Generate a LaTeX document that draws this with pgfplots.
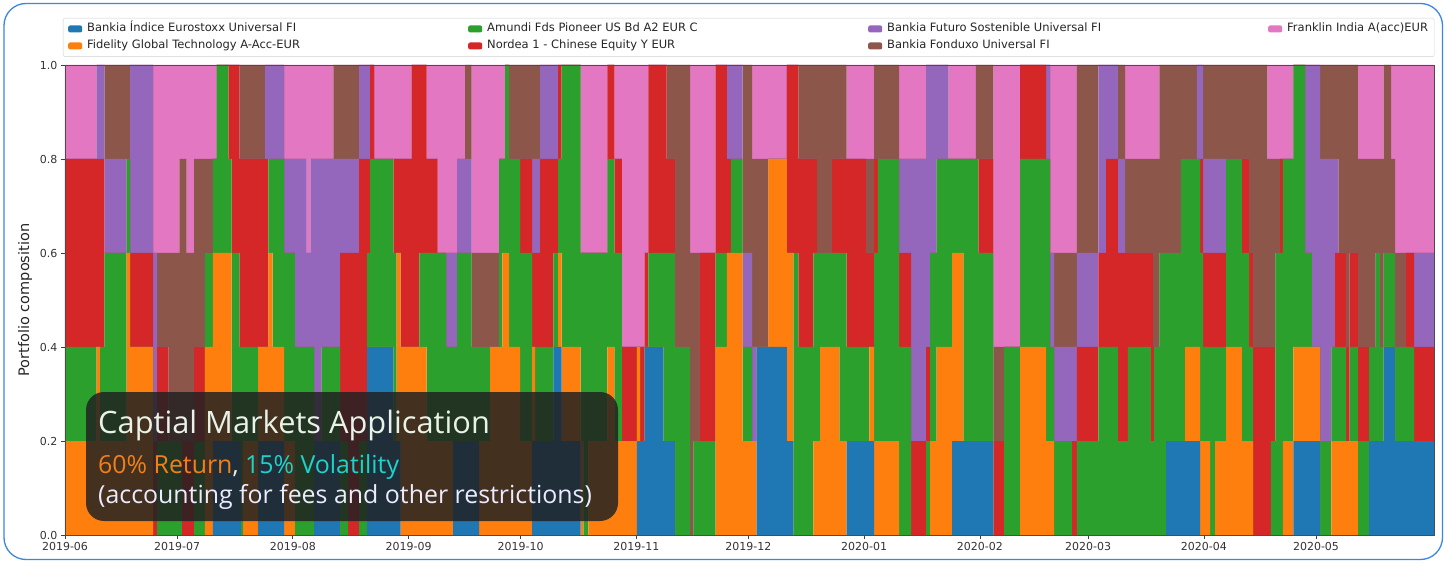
\documentclass[border=0pt]{standalone}
\usepackage{fontspec}
\setmainfont{DejaVu Sans}
\newfontfamily\osans{Open Sans}
\usepackage{pgfplots}
\usepackage{pgfplotstable}
\pgfplotsset{compat=1.18}

\definecolor{cB}{HTML}{1F77B4}
\definecolor{cO}{HTML}{FF7F0E}
\definecolor{cG}{HTML}{2CA02C}
\definecolor{cR}{HTML}{D62728}
\definecolor{cP}{HTML}{9467BD}
\definecolor{cN}{HTML}{8C564B}
\definecolor{cK}{HTML}{E377C2}
\definecolor{frameblue}{HTML}{3A86E0}
\definecolor{cardbg}{RGB}{33,33,34}
\definecolor{boxtxt}{HTML}{E9F2E6}
\definecolor{rettxt}{HTML}{F0801A}
\definecolor{voltxt}{HTML}{1ED2CC}

% day since 2019-06-01, number of 0.2 slices held by each fund
\pgfplotstableread{
t      b o g r p n k
0      0 1 1 2 0 0 1
8.44   0 2 0 2 1 0 0
9.37   0 1 1 2 1 0 0
10.52  0 1 2 0 1 1 0
16.52  0 3 1 0 0 1 0
17.41  0 2 0 1 2 0 0
23.57  0 0 0 1 2 0 2
24.64  0 0 1 1 0 1 2
27.66  0 0 1 0 0 2 2
30.61  0 0 1 0 0 3 1
31.33  0 0 0 1 0 3 1
32.59  0 0 0 1 0 2 2
34.55  0 0 1 1 0 2 1
37.49  0 2 1 0 0 1 1
39.63  1 2 1 0 0 0 1
40.63  1 2 2 0 0 0 0
43.73  1 2 1 1 0 0 0
44.64  1 0 2 2 0 0 0
46.68  1 0 1 2 0 1 0
47.13  0 0 2 2 0 1 0
47.67  0 1 1 2 0 1 0
51.69  1 1 0 2 0 1 0
53.56  1 1 0 2 1 0 0
54.45  1 2 1 0 1 0 0
55.62  1 1 2 0 1 0 0
58.65  0 1 2 0 1 0 1
61.58  0 0 2 0 2 0 1
64.73  0 0 2 0 1 0 2
65.80  0 0 2 0 2 0 1
66.68  1 0 0 0 3 0 1
68.75  1 0 1 0 2 0 1
71.85  1 0 1 0 2 1 0
73.65  0 0 1 2 1 1 0
75.79  0 0 0 3 1 1 0
78.74  0 0 1 3 1 0 0
80.88  2 0 1 1 1 0 0
81.68  2 0 2 1 0 0 0
82.75  2 0 2 0 0 0 1
87.92  1 0 2 1 0 0 1
88.83  1 2 0 1 0 0 1
89.85  0 2 0 2 0 0 1
92.85  0 2 0 3 0 0 0
94.89  0 2 1 2 0 0 0
96.87  0 1 2 1 0 0 1
99.81  0 1 2 0 0 0 2
102.04 0 1 1 0 1 0 2
103.91 1 0 1 0 1 0 2
104.98 1 0 2 0 1 0 1
107.12 1 0 2 0 1 1 0
108.92 1 0 1 0 0 1 2
110.87 0 1 1 0 0 1 2
113.82 0 2 0 0 0 1 2
116.23 0 2 2 0 0 0 1
117.11 0 3 1 0 0 0 1
117.84 0 3 2 0 0 0 0
118.91 0 2 2 0 0 1 0
121.85 0 1 2 1 0 1 0
125.07 1 1 0 1 1 1 0
125.87 1 0 1 1 1 1 0
127.21 1 0 1 2 1 0 0
130.77 2 0 1 1 1 0 0
132.03 2 1 1 1 0 0 0
133.02 1 1 3 0 0 0 0
138.06 0 1 2 0 0 0 2
138.81 0 0 3 0 0 0 2
140.15 0 1 2 0 0 0 2
145.23 0 2 2 1 0 0 0
147.11 0 1 2 1 0 0 1
149.09 0 1 0 1 0 0 3
153.11 1 1 0 0 0 0 3
153.99 1 0 0 1 0 0 3
155.20 2 0 0 1 0 0 2
156.21 2 0 1 2 0 0 0
160.23 1 0 2 2 0 0 0
161.14 1 0 2 1 0 1 0
163.36 0 0 2 0 0 3 0
167.38 0 0 0 0 0 3 2
168.26 0 0 1 0 0 2 2
170.06 0 0 1 2 0 0 2
174.21 0 2 1 2 0 0 0
177.21 0 3 0 1 1 0 0
178.28 0 3 1 0 1 0 0
181.49 0 1 1 0 1 2 0
183.98 0 1 0 0 1 2 1
185.24 2 0 0 0 0 2 1
188.35 2 2 0 0 0 0 1
193.28 1 2 0 2 0 0 0
195.04 0 0 3 2 0 0 0
196.38 0 0 2 2 0 1 0
200.40 0 1 2 1 0 1 0
201.31 0 1 2 0 0 2 0
202.19 0 2 1 0 0 2 0
205.33 0 2 1 1 0 1 0
207.36 0 1 2 1 0 1 0
209.34 1 0 1 2 0 0 1
214.52 1 0 1 1 0 1 1
215.40 1 1 0 1 0 1 1
216.66 0 1 2 1 0 1 0
217.65 0 1 3 0 0 1 0
223.35 0 0 2 1 1 0 1
226.57 0 0 0 1 3 0 1
230.58 0 0 1 1 3 0 0
231.66 0 1 2 0 2 0 0
233.40 0 2 2 0 1 0 0
236.56 0 2 2 0 0 0 1
237.55 1 2 1 0 0 0 1
240.58 1 0 3 0 0 0 1
243.90 1 0 3 0 0 1 0
244.60 1 0 2 1 0 1 0
248.61 0 0 0 1 0 1 3
251.48 0 0 2 0 0 0 3
255.76 0 2 2 1 0 0 0
262.72 0 1 3 0 1 0 0
263.79 0 1 1 0 1 0 2
264.86 0 0 1 0 1 1 2
269.60 0 0 0 1 1 1 2
270.94 0 0 1 1 1 2 0
276.73 0 0 2 1 2 0 0
278.79 0 0 2 2 1 0 0
281.92 0 0 1 2 1 1 0
283.88 0 0 1 2 0 1 1
284.60 0 0 2 1 0 1 1
290.76 0 0 1 2 0 1 1
291.30 0 0 1 1 0 2 1
291.65 0 0 2 0 0 2 1
293.07 0 0 3 0 0 2 0
294.86 1 0 2 0 0 2 0
298.80 1 0 3 0 0 1 0
299.95 1 1 2 0 0 1 0
303.08 1 1 2 0 1 0 0
303.97 0 1 2 1 1 0 0
304.78 0 1 1 1 1 1 0
306.66 0 0 2 1 1 1 0
308.00 0 1 1 1 1 1 0
310.95 0 2 2 0 0 1 0
315.15 0 1 2 1 0 1 0
317.11 0 1 1 1 0 2 0
318.18 0 0 0 2 0 3 0
322.00 0 0 0 2 0 2 1
322.90 0 0 1 1 0 2 1
324.10 0 0 3 0 0 1 1
325.40 0 0 3 1 0 0 1
326.10 0 1 3 0 0 0 1
328.96 1 1 3 0 0 0 0
332.10 1 1 1 0 2 0 0
333.90 1 1 0 0 3 0 0
336.10 0 0 1 0 3 1 0
339.10 0 1 1 0 2 1 0
340.10 0 1 1 1 1 1 0
341.00 0 1 1 1 0 2 0
343.10 0 1 0 1 0 3 0
344.00 0 1 1 1 0 2 0
346.20 0 0 1 1 0 2 1
349.20 1 0 1 0 0 2 1
351.00 1 0 2 0 0 1 1
352.20 1 0 1 0 0 2 1
353.10 2 0 1 0 0 2 0
355.10 2 0 1 0 0 1 1
356.20 1 0 1 0 0 1 2
359.10 1 0 1 1 0 0 2
361.30 1 0 0 1 1 0 2
366.60 1 0 0 1 1 0 2
}\comp

\newcommand{\lentry}[2]{\makebox[#1][l]{\hspace*{3pt}#2}}

\begin{document}
\begin{tikzpicture}[x=1pt,y=1pt]
\useasboundingbox (0,0) rectangle (1446,563);
\draw[frameblue, line width=1.3pt, rounded corners=22pt] (4,3.5) rectangle (1442.5,559.5);

\begin{axis}[
  at={(65pt,28pt)}, anchor=south west,
  scale only axis, width=1369pt, height=470pt,
  xmin=0, xmax=366.6, ymin=0, ymax=1,
  stack plots=y,
  axis on top,
  tick pos=left,
  tick align=outside,
  major tick length=4pt,
  tick style={black!75, line width=0.6pt},
  axis line style={black!70, line width=0.6pt},
  xtick={0,30,61,92,122,153,183,214,245,274,305,335},
  xticklabels={2019-06,2019-07,2019-08,2019-09,2019-10,2019-11,2019-12,2020-01,2020-02,2020-03,2020-04,2020-05},
  ytick={0,0.2,0.4,0.6,0.8,1},
  yticklabel style={/pgf/number format/fixed, /pgf/number format/fixed zerofill, /pgf/number format/precision=1},
  /pgf/number format/assume math mode=true,
  every tick label/.append style={font=\fontsize{11}{13}\selectfont, text=black!80},
  ylabel={Portfolio composition},
  every axis y label/.style={at={(axis description cs:-0.0292,0.5)}, rotate=90, anchor=center, font=\fontsize{14.5}{17}\selectfont, text=black!85},
  legend columns=2, transpose legend,
  legend image code/.code={\fill[#1] (0pt,-3.5pt) rectangle (14pt,3.5pt);},
  legend style={at={(axis description cs:-0.00146,1.1)}, anchor=north west,
    draw=black!18, rounded corners=2pt, fill=white,
    inner xsep=5pt, inner ysep=3pt,
    font=\fontsize{11.5}{13}\selectfont, text=black!85,
    nodes={inner sep=2pt, text height=8.5pt, text depth=3pt},
    /tikz/row sep=1.5pt},
  legend cell align=left,
]
\addplot[fill=cB, draw=none, const plot] table[x=t, y expr=0.2*\thisrow{b}] {\comp} \closedcycle;
\addlegendentry{\lentry{382pt}{Bankia Índice Eurostoxx Universal FI}}
\addplot[fill=cO, draw=none, const plot] table[x=t, y expr=0.2*\thisrow{o}] {\comp} \closedcycle;
\addlegendentry{\lentry{382pt}{Fidelity Global Technology A-Acc-EUR}}
\addplot[fill=cG, draw=none, const plot] table[x=t, y expr=0.2*\thisrow{g}] {\comp} \closedcycle;
\addlegendentry{\lentry{382pt}{Amundi Fds Pioneer US Bd A2 EUR C}}
\addplot[fill=cR, draw=none, const plot] table[x=t, y expr=0.2*\thisrow{r}] {\comp} \closedcycle;
\addlegendentry{\lentry{382pt}{Nordea 1 - Chinese Equity Y EUR}}
\addplot[fill=cP, draw=none, const plot] table[x=t, y expr=0.2*\thisrow{p}] {\comp} \closedcycle;
\addlegendentry{\lentry{382pt}{Bankia Futuro Sostenible Universal FI}}
\addplot[fill=cN, draw=none, const plot] table[x=t, y expr=0.2*\thisrow{n}] {\comp} \closedcycle;
\addlegendentry{\lentry{382pt}{Bankia Fonduxo Universal FI}}
\addplot[fill=cK, draw=none, const plot] table[x=t, y expr=0.2*\thisrow{k}] {\comp} \closedcycle;
\addlegendentry{\lentry{143pt}{Franklin India A(acc)EUR}}
\end{axis}

% overlay card
\fill[cardbg, fill opacity=0.84, rounded corners=18pt] (86,42) rectangle (618,171);
\node[anchor=base west, inner sep=0pt, text=boxtxt, font=\osans\fontsize{30.8}{36}\selectfont] at (98,130) {Captial Markets Application};
\node[anchor=base west, inner sep=0pt, font=\osans\fontsize{24.9}{29}\selectfont] at (98,90) {\textcolor{rettxt}{60\% Return}\textcolor{boxtxt}{,} \textcolor{voltxt}{15\% Volatility}};
\node[anchor=base west, inner sep=0pt, text=white!92!blue, font=\osans\fontsize{24.9}{29}\selectfont] at (98,60) {(accounting for fees and other restrictions)};
\end{tikzpicture}
\end{document}
